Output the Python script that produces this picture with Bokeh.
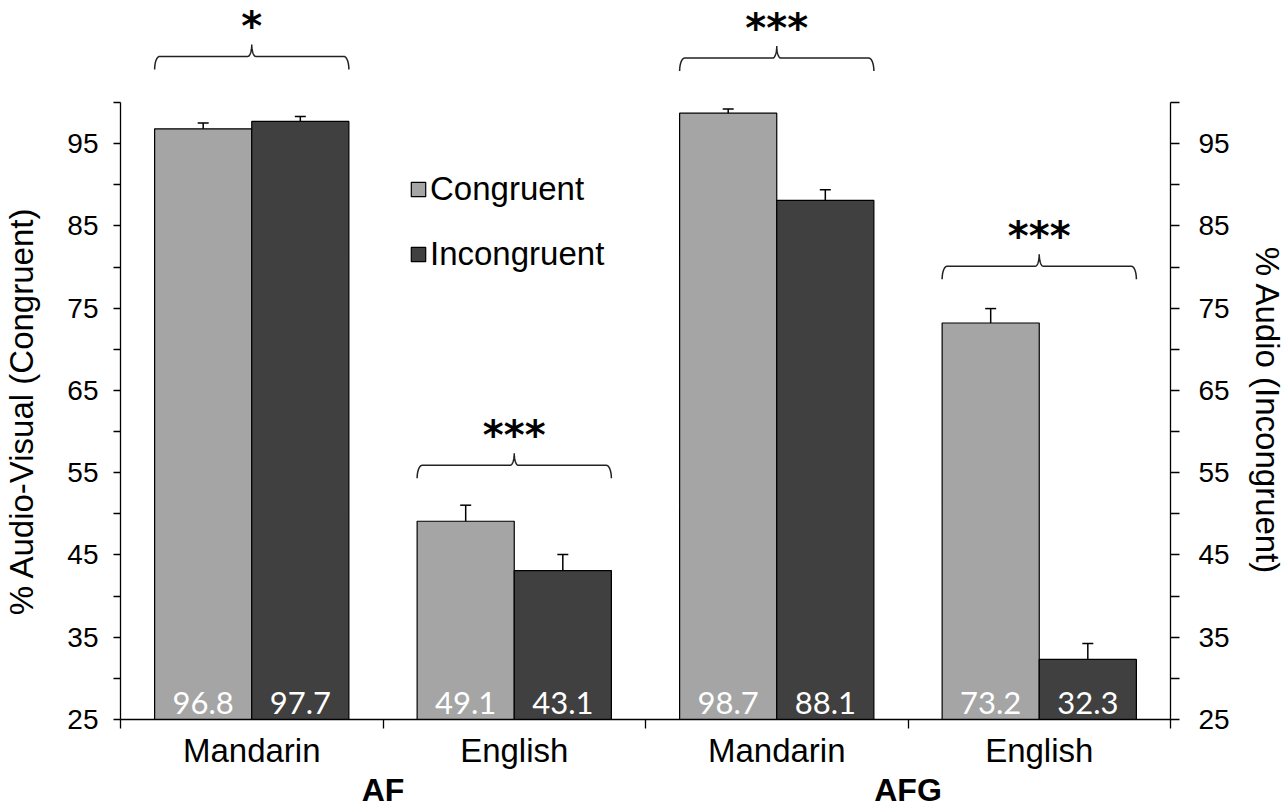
import numpy as np
from bokeh.plotting import figure
from bokeh.models import (ColumnDataSource, LinearAxis, FixedTicker, Range1d,
                          Whisker, TeeHead, Legend, LegendItem)
from bokeh.core.properties import value
from bokeh.embed import file_html
from bokeh.resources import INLINE

# ---------------- data ----------------
group_names = ["AF", "AFG"]
languages = ["Mandarin", "English", "Mandarin", "English"]
congruent = [96.8, 49.1, 98.7, 73.2]
incongruent = [97.7, 43.1, 88.1, 32.3]
congruent_err = [0.7, 1.95, 0.5, 1.75]
incongruent_err = [0.6, 1.95, 1.3, 1.95]
significance = ["*", "***", "***", "***"]
brace_level = [105.6, 55.9, 105.4, 80.1]
y_major = [25, 35, 45, 55, 65, 75, 85, 95]
y_minor = [30, 40, 50, 60, 70, 80, 90, 100]
y_bounds = (25, 100)
left_title = "% Audio-Visual (Congruent)"
right_title = "% Audio (Incongruent)"

# ---------------- layout constants ----------------
Y0, Y1 = 25, 112.4
FW, FH = 1050, 719
BAR_W = 0.37
C_COL = "#a5a5a5"
I_COL = "#404040"
FONT = "Liberation Sans"

n = len(languages)
centers = [i + 0.5 for i in range(n)]
cong_x = [c - BAR_W / 2 for c in centers]
inc_x = [c + BAR_W / 2 for c in centers]

cong_src = ColumnDataSource(dict(
    x=cong_x, top=congruent,
    upper=[v + e for v, e in zip(congruent, congruent_err)],
    lower=[v - e for v, e in zip(congruent, congruent_err)],
    label=[f"{v:.1f}" for v in congruent]))
inc_src = ColumnDataSource(dict(
    x=inc_x, top=incongruent,
    upper=[v + e for v, e in zip(incongruent, incongruent_err)],
    lower=[v - e for v, e in zip(incongruent, incongruent_err)],
    label=[f"{v:.1f}" for v in incongruent]))

p = figure(frame_width=FW, frame_height=FH,
           x_range=Range1d(0, n), y_range=Range1d(Y0, Y1),
           x_axis_type=None, y_axis_type=None,
           output_backend="svg", toolbar_location=None,
           min_border_left=118, min_border_right=117,
           min_border_top=0, min_border_bottom=88)
p.outline_line_color = None
p.background_fill_color = "white"
p.border_fill_color = "white"

r_c = p.vbar(x="x", top="top", bottom=Y0, width=BAR_W, source=cong_src,
             fill_color=C_COL, line_color="black", line_width=1.2)
r_i = p.vbar(x="x", top="top", bottom=Y0, width=BAR_W, source=inc_src,
             fill_color=I_COL, line_color="black", line_width=1.2)

for src in (cong_src, inc_src):
    p.add_layout(Whisker(source=src, base="x", upper="upper", lower="lower",
                         line_color="black", line_width=1.5,
                         upper_head=TeeHead(size=11, line_width=1.5, line_color="black"),
                         lower_head=TeeHead(size=11, line_width=1.5, line_color="black")))
    p.text(x="x", y=Y0, text="label", source=src, text_color="white",
           text_font=value("Lato"), text_font_size="31px",
           text_align="center", text_baseline="alphabetic", y_offset=-17)

# ---------------- braces & significance ----------------
px_x = FW / n
px_y = FH / (Y1 - Y0)
t = np.linspace(0, np.pi / 2, 14)


def brace(xa, xb, yb):
    rh, d = 5 / px_x, 13 / px_y
    rh2, pk = 4 / px_x, 12 / px_y
    xm = (xa + xb) / 2
    lx = np.concatenate([xa + rh - rh * np.cos(t), xm - rh2 + rh2 * np.sin(t)])
    ly = np.concatenate([yb - d + d * np.sin(t), yb + pk - pk * np.cos(t)])
    rx = (2 * xm - lx)[::-1]
    ry = ly[::-1]
    return list(np.concatenate([lx, rx[1:]])), list(np.concatenate([ly, ry[1:]]))


bxs, bys = [], []
for c, yb in zip(centers, brace_level):
    bx, by = brace(c - BAR_W, c + BAR_W, yb)
    bxs.append(bx)
    bys.append(by)
p.multi_line(xs=bxs, ys=bys, line_color="#222222", line_width=1.5)
p.text(x=centers, y=brace_level, text=significance, text_color="black",
       text_font=value("DejaVu Sans"), text_font_style="bold",
       text_font_size="40px", text_align="center",
       text_baseline="alphabetic", y_offset=-30)

# ---------------- axes ----------------
def style_y(ax, tick_out, standoff):
    ax.bounds = y_bounds
    ax.axis_line_color = "black"
    ax.axis_line_width = 1.3
    ax.major_tick_out = tick_out
    ax.major_tick_in = 0
    ax.minor_tick_out = tick_out
    ax.minor_tick_in = 0
    ax.major_tick_line_width = 1.3
    ax.minor_tick_line_width = 1.3
    ax.major_label_text_font = FONT
    ax.major_label_text_font_size = "28px"
    ax.major_label_text_color = "black"
    ax.major_label_standoff = standoff


def title_axis(text, standoff):
    mid = (y_bounds[0] + y_bounds[1]) / 2
    ax = LinearAxis(ticker=FixedTicker(ticks=[mid], minor_ticks=[]),
                    major_label_overrides={mid: text})
    ax.axis_line_color = None
    ax.major_tick_line_color = None
    ax.minor_tick_line_color = None
    ax.major_tick_out = 0
    ax.major_tick_in = 0
    ax.major_label_orientation = "parallel"
    ax.major_label_standoff = standoff
    ax.major_label_text_font = FONT
    ax.major_label_text_font_size = "33px"
    ax.major_label_text_color = "black"
    return ax


yl = LinearAxis(ticker=FixedTicker(ticks=y_major, minor_ticks=y_minor))
style_y(yl, 7, 15)
p.add_layout(yl, "left")
p.add_layout(title_axis(left_title, 24), "left")

yr = LinearAxis(ticker=FixedTicker(ticks=y_major, minor_ticks=y_minor))
style_y(yr, 9, 19)
p.add_layout(yr, "right")
p.add_layout(title_axis(right_title, 16), "right")

xa = LinearAxis(ticker=FixedTicker(ticks=centers, minor_ticks=list(range(n + 1))),
                major_label_overrides={c: lang for c, lang in zip(centers, languages)})
xa.axis_line_color = "black"
xa.axis_line_width = 1.3
xa.major_tick_out = 0
xa.major_tick_in = 0
xa.minor_tick_out = 9
xa.minor_tick_in = 0
xa.minor_tick_line_width = 1.3
xa.major_label_text_font = FONT
xa.major_label_text_font_size = "33px"
xa.major_label_text_color = "black"
xa.major_label_standoff = 3
p.add_layout(xa, "below")

group_pos = [2 * g + 1 for g in range(len(group_names))]
xg = LinearAxis(ticker=FixedTicker(ticks=group_pos, minor_ticks=[]),
                major_label_overrides={gp: name for gp, name in zip(group_pos, group_names)})
xg.axis_line_color = None
xg.major_tick_line_color = None
xg.minor_tick_line_color = None
xg.major_tick_out = 0
xg.major_tick_in = 0
xg.major_label_standoff = 0
xg.major_label_text_font = FONT
xg.major_label_text_font_size = "32px"
xg.major_label_text_font_style = "bold"
xg.major_label_text_color = "black"
p.add_layout(xg, "below")

# ---------------- legend ----------------
legend = Legend(items=[LegendItem(label="Congruent", renderers=[r_c]),
                       LegendItem(label="Incongruent", renderers=[r_i])],
                location=(289, 446), glyph_width=18, glyph_height=18,
                label_text_font=FONT, label_text_font_size="33px",
                label_text_color="black", spacing=27, padding=0, margin=0,
                label_standoff=3, border_line_alpha=0,
                background_fill_alpha=0)
p.add_layout(legend)

open("out.html", "w").write(file_html(p, INLINE))
